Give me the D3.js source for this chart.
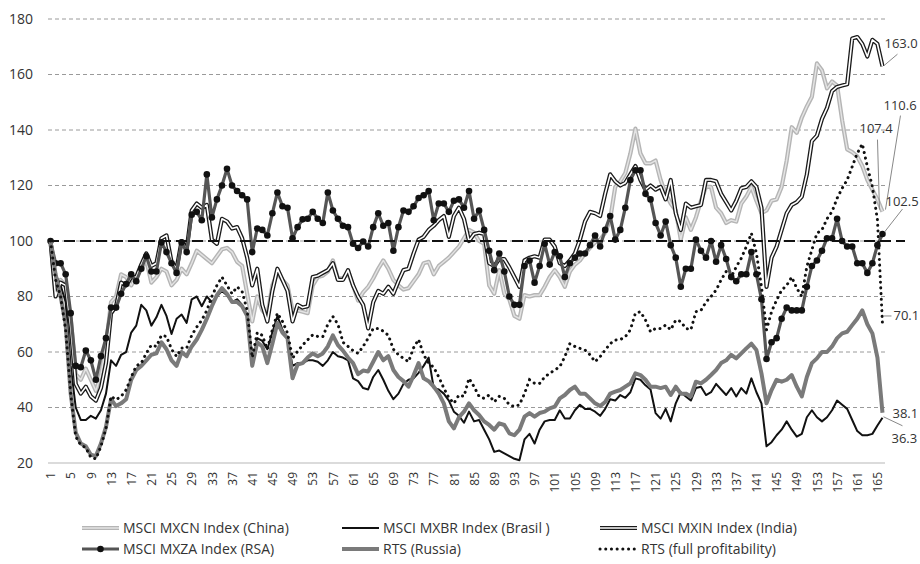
<!DOCTYPE html>
<html>
<head>
<meta charset="utf-8">
<script src="https://cdn.jsdelivr.net/npm/d3@7"></script>
<style>
  body { margin: 0; background: #fff; }
  svg { font-family: "Open Sans", "Noto Sans", sans-serif; }
</style>
</head>
<body>
<svg id="chart" width="920" height="564"></svg>
<script>
// month index 1..166
const periods = d3.range(1, 167);
const yTicks = [20, 40, 60, 80, 100, 120, 140, 160, 180];

const china = [
  100, 82, 86, 84, 72, 52, 50, 54, 50, 46,
  52, 62, 78, 80, 88, 87, 84, 87, 90, 93,
  85, 87, 90, 89, 84, 86, 90, 88, 92, 96.5,
  95, 93.5, 92, 94.5, 97, 97.5, 96, 92.5, 91, 81,
  71, 80, 75, 73, 84, 88.5, 86, 84, 75, 75,
  74.5, 74, 84, 87, 87.5, 89, 93, 86.5, 86.5, 88.5,
  84, 78.5, 81.5, 83.5, 86.5, 90, 93, 90, 86, 84,
  82.5, 83, 85.5, 88, 92, 92.5, 88, 91, 92.5, 94,
  96, 98, 101, 104, 103, 100, 99, 84, 81, 89.5,
  81, 79, 73, 72, 80.5, 80, 80.5, 80.5, 83.5, 87,
  89.5, 87, 83.5, 89, 91.5, 93, 95.5, 97.5, 99.5, 100.5,
  103, 108, 119.5, 121.5, 124.5, 131.5, 140.5, 131.5, 128, 128,
  129, 122, 117, 113.5, 111, 100.5, 108.5, 104, 108.5, 114.5,
  119.5, 119.5, 112, 110, 106.5, 107.5, 107, 113.5, 116, 119.5,
  114.5, 110, 111, 114.5, 115, 119.5, 129, 141, 139, 144.5,
  148.5, 152, 164, 161.5, 155, 157.5, 156, 143.5, 133, 132,
  130.5, 127, 122, 118.5, 115, 110.6
];

const brasil = [
  100, 88, 84, 78, 55, 40, 35.5, 35.5, 37, 36,
  39, 45, 57, 55, 59, 60, 67, 69.5, 77, 75,
  69.5, 72.5, 77, 73, 66.5, 72, 73.5, 70.5, 79, 80,
  76.5, 80, 78, 80, 82, 80.5, 78, 79, 77, 73,
  55, 65, 64, 61, 67, 73, 68, 64.5, 55, 56,
  56, 57, 57, 56.5, 55, 57, 60, 58.5, 58, 57,
  50.5, 49.5, 47, 46.5, 51, 53.5, 50, 46, 43, 45,
  48.5, 50, 50.5, 52.5, 55, 58, 47, 46.5, 45, 42.5,
  38.5, 37, 34.5, 38.5, 35, 35.5, 32, 28.5, 24, 24.5,
  23.5, 22.5, 21.5, 21, 28.5, 30.5, 27, 32, 35, 35.5,
  35.5, 39, 36, 36, 39, 41, 39.5, 39.5, 38.5, 37,
  39.5, 43, 42.5, 44.5, 43.5, 45.5, 50.5, 50, 48, 46.5,
  38, 36, 39.5, 35, 41.5, 45.5, 44, 42.5, 47, 47.5,
  44.5, 45.5, 48.5, 46.5, 44.5, 47, 44, 47, 45, 50.5,
  45.5, 41.5, 26, 27.5, 30, 32, 35, 32, 29.5, 30.5,
  36.5, 39, 36.5, 35, 36.5, 39, 42.5, 41, 39.5, 35.5,
  31.5, 30, 30, 30.5, 33.5, 36.3
];

const india = [
  100, 80, 85, 84, 69, 48.5, 45, 47.5, 44, 42.5,
  47, 56, 74, 76.5, 85, 84, 87, 87, 91.5, 95.5,
  91, 92, 101, 102, 92.5, 90, 100, 97, 111, 113.5,
  112, 113, 100.5, 99, 108, 107, 104.5, 105, 101, 94,
  84, 90, 77, 71, 82, 90, 86, 82, 71, 77,
  76, 76.5, 87, 87.5, 88.5, 89.5, 92, 86, 86, 89.5,
  84, 80, 77, 68.5, 78, 82, 81, 83.5, 81, 85.5,
  89.5, 90, 95.5, 100.5, 101.5, 104, 105.5, 107.5, 109, 101.5,
  109, 112, 108, 100, 102.5, 103, 102.5, 92, 91, 93.5,
  93.5, 90.5, 87, 83.5, 93, 94, 94.5, 94, 100.5, 100.5,
  98, 92, 91, 93, 95.5, 100.5, 107, 110.5, 110, 109,
  117, 124, 121.5, 120, 121, 124, 127, 122, 118.5, 120,
  118.5, 119.5, 115, 122, 110, 104, 113.5, 112, 112.5, 113,
  122, 122, 121.5, 117, 114, 111, 114.5, 119, 119.5, 121.5,
  119.5, 112, 83.5, 94, 98, 104, 110, 113, 114, 116,
  124, 136, 138, 144, 148, 154, 155.5, 156, 156.5, 173,
  173.5, 171, 166.5, 172.5, 171, 163
];

const rsa = [
  100, 92, 92, 88, 74, 55, 54.5, 60.5, 57, 50,
  58.5, 65, 76, 76, 81, 84.5, 88, 85.5, 90, 94.5,
  89, 89, 99.5, 96, 92, 88.5, 99.5, 96, 109.5, 110.5,
  107.5, 124, 108.5, 115, 120, 126, 120, 118, 116.5, 115,
  96, 104.5, 104, 102, 110, 117.5, 112.5, 112, 101, 105,
  107.8, 108, 110.5, 108, 106.5, 117.5, 111, 108, 105.5, 105,
  99, 97.5, 99.8, 98, 105, 110, 105.5, 106.5, 96.5, 105,
  111, 110.5, 112.5, 115.5, 116.5, 118, 107.5, 113.5, 113.5, 110.5,
  114.5, 115, 112, 118, 108, 111, 104, 96.5, 89.5, 95.5,
  89, 80, 77, 77, 91, 93, 85, 91, 99, 91.5,
  96, 94.5, 87, 92, 94, 95.5, 95.5, 98.5, 102, 98,
  104, 109, 100.5, 104, 112, 122, 125.5, 125.5, 117, 115,
  106.5, 102, 107, 98.5, 94, 83.5, 90, 90, 100.5, 96.5,
  94, 100, 92.5, 98.5, 93.5, 87, 85.5, 88, 88, 96,
  88, 79, 57.5, 63.5, 65, 72, 76, 75, 75, 75,
  83.5, 91, 93, 96.5, 101, 101, 108, 100, 98, 98,
  92, 92, 88.5, 92, 98.5, 102.5
];

const russia = [
  100, 88, 80, 70, 45, 31, 27, 26, 23, 22.5,
  27, 33, 43, 40.5, 41.5, 43, 50, 53.5, 55, 57,
  59, 59.5, 63.5, 61, 57, 55, 60, 58.5, 62, 64.5,
  68, 72, 76.5, 80.5, 83, 81, 78, 78, 76.5, 73,
  55, 63.5, 62, 56, 63, 70.5, 67, 65, 50.5, 55.5,
  56, 58, 59.5, 58.5, 59.5, 62, 66, 62.5, 60.5, 58,
  56, 52, 53.3, 53, 56.5, 60, 57, 58.5, 53.5, 51,
  49.5, 47.5, 51.5, 56, 50.5, 49.5, 47.5, 45, 41.5, 35,
  32.5, 36.5, 38.5, 41.5, 39, 37.3, 35, 33.7, 32, 34.3,
  33.7, 30.7, 30, 32, 36.7, 38, 36.7, 38, 38.5, 39.7,
  40.3, 43.3, 44.5, 46.3, 47.5, 45, 45, 43.3, 41.5, 40.5,
  42, 45, 45.7, 46.3, 47.5, 48.7, 52.3, 51.7, 50, 47.5,
  47.5, 47, 47.5, 44.5, 47.5, 45, 45, 44, 49.3, 48.7,
  50, 51.7, 53.5, 56, 57, 59, 57.7, 59.5, 61.3, 63,
  60.7, 52.3, 41.5, 46.3, 50, 49.3, 50, 51.7, 47.5, 44,
  51, 56, 57.7, 60, 60, 62, 65, 66.7, 67.3, 69.7,
  72, 75, 70, 66.7, 58, 38.1
];

const rtsFull = [
  100, 86, 80, 68, 45, 29.5, 26.5, 25.5, 22, 21.5,
  26, 32.5, 44, 42.8, 44, 46.4, 51, 55, 56, 59.6,
  62.5, 62, 66, 65.6, 61, 58.4, 61.4, 61.4, 66, 69,
  71.5, 75, 80, 84, 87, 84, 81, 83.5, 81.8, 75,
  58, 67, 66, 61, 68, 74, 71, 66.8, 57.8, 60.2,
  62.5, 64.4, 66.2, 65.6, 65.5, 70, 72.8, 70, 63.5, 62,
  60.5, 59.5, 62, 65, 68.5, 68.5, 67.5, 66, 61, 59,
  57.7, 56.5, 61.5, 64.5, 59, 56, 54.5, 51, 47, 43.5,
  41.5, 44.5, 44, 50.5, 47.5, 44, 43.3, 44.5, 42, 44,
  43.3, 41, 40.3, 41, 45, 50, 48.7, 48.7, 51, 52.3,
  53.5, 54.7, 58.3, 63, 62, 61.3, 60.7, 59, 56.5, 58.3,
  60.7, 63, 64.3, 64.5, 65.5, 68, 74, 74.5, 71.5, 67.3,
  68.5, 68.5, 69.7, 68, 71.5, 71, 68.5, 68, 74.5, 75,
  78, 80, 82.3, 86, 89, 87, 90.7, 93.8, 98, 102.8,
  95.6, 83.5, 68, 74.5, 78.7, 82.3, 84, 87, 83, 80,
  90.8, 96.8, 102.8, 104, 108, 110.6, 115.4, 119, 122, 126.8,
  131.6, 135, 126.8, 119.6, 107.6, 70.1
];

const seriesNames = [
  "MSCI MXCN Index (China)", "MSCI MXBR Index (Brasil )", "MSCI MXIN Index (India)",
  "MSCI MXZA Index (RSA)", "RTS (Russia)", "RTS (full profitability)"
];

// end value labels: text, which series it points to, label offset / leader
const endLabels = [
  { text: "163.0", series: 2, tx: 2, ty: -18, lx1: 2, ly1: -1, lx2: 15, ly2: -12 },
  { text: "110.6", series: 0, tx: 1, ty: -102, lx1: 3, ly1: -2, lx2: 18, ly2: -96 },
  { text: "107.4", series: 0, tx: -23, ty: -79, lx1: -3, ly1: -2, lx2: -5, ly2: -72 },
  { text: "102.5", series: 3, tx: 3, ty: -28, lx1: 2, ly1: -2, lx2: 20, ly2: -25 },
  { text: "70.1", series: 5, tx: 11, ty: -4, lx1: 1, ly1: -8, lx2: 9, ly2: -8 },
  { text: "38.1", series: 4, tx: 10, ty: 5, lx1: 0, ly1: 0, lx2: 0, ly2: 0 },
  { text: "36.3", series: 1, tx: 9, ty: 25, lx1: 1, ly1: -1, lx2: 20, ly2: 8 }
];

const svg = d3.select("#chart");
const x = d3.scalePoint().domain(periods).range([48, 885]).padding(0.5);
const y = d3.scaleLinear().domain([20, 180]).range([463, 19]);

// grid
svg.append("g")
  .selectAll("line")
  .data(yTicks)
  .join("line")
  .attr("x1", 48).attr("x2", 885)
  .attr("y1", d => y(d)).attr("y2", d => y(d))
  .attr("stroke", d => d === 20 ? "#cfcfcf" : "#9a9a9a")
  .attr("stroke-width", d => d === 20 ? 1.6 : 1)
  .attr("stroke-dasharray", d => d === 20 ? null : "4,3");

// y labels
const yAxis = svg.append("g")
  .attr("transform", "translate(48,0)")
  .call(d3.axisLeft(y).tickValues(yTicks).tickSize(0).tickPadding(15));
yAxis.select(".domain").remove();
yAxis.selectAll("text")
  .style("font-size", "14px")
  .style("font-family", "'Open Sans', sans-serif")
  .attr("fill", "#333");

// x labels, rotated
const xAxis = svg.append("g")
  .attr("transform", `translate(0,${y(20)})`)
  .call(d3.axisBottom(x).tickValues(periods.filter(d => (d - 1) % 4 === 0)).tickSize(0));
xAxis.select(".domain").remove();
xAxis.selectAll("text")
  .attr("transform", "rotate(-90)")
  .attr("x", -9)
  .attr("y", 0)
  .attr("dy", "0.35em")
  .style("text-anchor", "end")
  .style("font-size", "12px")
  .style("font-family", "'Open Sans', sans-serif")
  .attr("fill", "#333");

const line = d3.line()
  .x((d, i) => x(periods[i]))
  .y(d => y(d));

const plot = svg.append("g");

// China: light grey double stroke
plot.append("path").datum(china).attr("d", line)
  .attr("fill", "none").attr("stroke", "#b5b5b5").attr("stroke-width", 4.2)
  .attr("stroke-linejoin", "round");
plot.append("path").datum(china).attr("d", line)
  .attr("fill", "none").attr("stroke", "#e4e4e4").attr("stroke-width", 1.4)
  .attr("stroke-linejoin", "round");

// Brasil
plot.append("path").datum(brasil).attr("d", line)
  .attr("fill", "none").attr("stroke", "#111").attr("stroke-width", 2)
  .attr("stroke-linejoin", "round");

// India: black double stroke
plot.append("path").datum(india).attr("d", line)
  .attr("fill", "none").attr("stroke", "#1a1a1a").attr("stroke-width", 4.2)
  .attr("stroke-linejoin", "round");
plot.append("path").datum(india).attr("d", line)
  .attr("fill", "none").attr("stroke", "#fff").attr("stroke-width", 1.6)
  .attr("stroke-linejoin", "round");

// RSA with markers
plot.append("path").datum(rsa).attr("d", line)
  .attr("fill", "none").attr("stroke", "#555").attr("stroke-width", 3.2)
  .attr("stroke-linejoin", "round");
plot.append("g")
  .selectAll("circle")
  .data(rsa)
  .join("circle")
  .attr("cx", (d, i) => x(periods[i]))
  .attr("cy", d => y(d))
  .attr("r", 3.3)
  .attr("fill", "#111");

// Russia
plot.append("path").datum(russia).attr("d", line)
  .attr("fill", "none").attr("stroke", "#7a7a7a").attr("stroke-width", 4)
  .attr("stroke-linejoin", "round");

// RTS full profitability, dotted
plot.append("path").datum(rtsFull).attr("d", line)
  .attr("fill", "none").attr("stroke", "#111").attr("stroke-width", 3)
  .attr("stroke-linecap", "round")
  .attr("stroke-dasharray", "0.1,5.6");

// 100 reference line
svg.append("line")
  .attr("x1", 48).attr("x2", 905)
  .attr("y1", y(100)).attr("y2", y(100))
  .attr("stroke", "#111").attr("stroke-width", 2)
  .attr("stroke-dasharray", "11,5");

// end labels
const allSeries = [china, brasil, india, rsa, russia, rtsFull];
const last = periods[periods.length - 1];
const lab = svg.append("g");
endLabels.forEach(l => {
  const ex = x(last);
  const ey = y(allSeries[l.series][allSeries[l.series].length - 1]);
  if (l.lx2 !== l.lx1 || l.ly2 !== l.ly1) {
    lab.append("line")
      .attr("x1", ex + l.lx1).attr("y1", ey + l.ly1)
      .attr("x2", ex + l.lx2).attr("y2", ey + l.ly2)
      .attr("stroke", "#888").attr("stroke-width", 1);
  }
  lab.append("text")
    .attr("x", ex + l.tx).attr("y", ey + l.ty)
    .style("font-size", "13px")
    .attr("fill", "#333")
    .text(l.text);
});

// legend
const legendPos = [
  { x: 82, y: 528 }, { x: 342, y: 528 }, { x: 600, y: 528 },
  { x: 82, y: 549 }, { x: 342, y: 549 }, { x: 600, y: 549 }
];
const legend = svg.append("g");
seriesNames.forEach((name, k) => {
  const p = legendPos[k];
  const g = legend.append("g").attr("transform", `translate(${p.x},${p.y})`);
  const sw = (stroke, w, extra) => {
    const s = g.append("line").attr("x1", 0).attr("x2", 37).attr("y1", 0).attr("y2", 0)
      .attr("stroke", stroke).attr("stroke-width", w);
    if (extra) extra(s);
  };
  if (k === 0) { sw("#b5b5b5", 4.2); sw("#e4e4e4", 1.4); }
  if (k === 1) sw("#111", 2);
  if (k === 2) { sw("#1a1a1a", 4.2); sw("#fff", 1.6); }
  if (k === 3) {
    sw("#555", 3.2);
    g.append("circle").attr("cx", 18.5).attr("cy", 0).attr("r", 3.3).attr("fill", "#111");
  }
  if (k === 4) sw("#7a7a7a", 4);
  if (k === 5) sw("#111", 3, s => s.attr("stroke-linecap", "round").attr("stroke-dasharray", "0.1,5.6"));
  g.append("text")
    .attr("x", 41).attr("y", 0).attr("dy", "0.35em")
    .style("font-size", "14px")
    .attr("fill", "#333")
    .text(name);
});
</script>
</body>
</html>
